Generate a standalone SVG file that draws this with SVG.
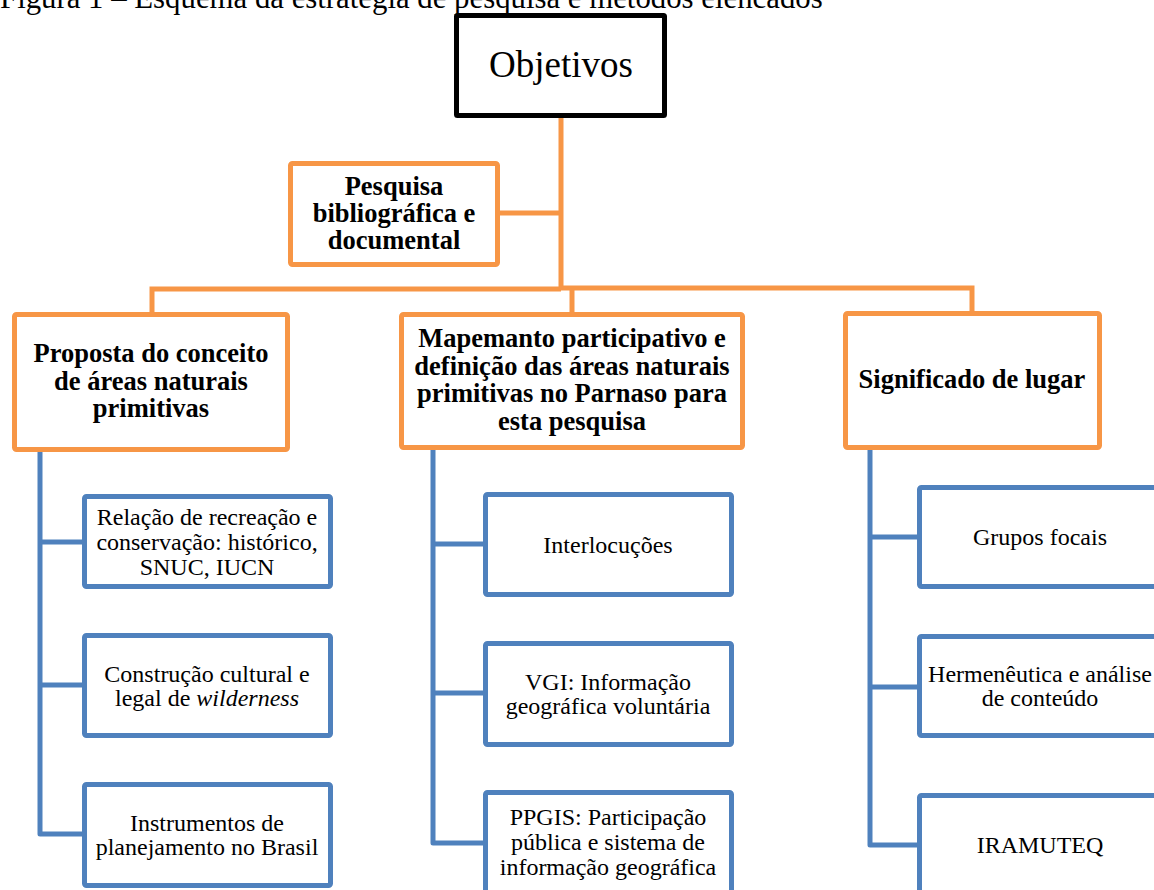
<svg xmlns="http://www.w3.org/2000/svg" width="1154" height="890" viewBox="0 0 1154 890">
<style>
text{font-family:"Liberation Serif","Times New Roman",serif;fill:#000;text-anchor:middle}
.t{font-size:24px}
.b{font-size:26.5px;font-weight:bold}
.ob{fill:#fff;stroke:#F79646;stroke-width:5}
.bb{fill:#fff;stroke:#4F81BD;stroke-width:5}
.oc{fill:none;stroke:#F79646;stroke-width:5}
.bc{fill:none;stroke:#4F81BD;stroke-width:5;stroke-linejoin:round}
</style>
<rect width="1154" height="890" fill="#fff"/>
<text x="0" y="8" style="font-size:30.8px;text-anchor:start">Figura 1 – Esquema da estratégia de pesquisa e métodos elencados</text>
<g id="connectors">
<path class="oc" d="M561 118V289M500 213H561M152 312V289H561M561 288H972V311M572 288V312"/>
<path class="bc" d="M40 452V834H82M40 542H82M40 685H82"/>
<path class="bc" d="M433 450V843H483M433 544H483M433 693H483"/>
<path class="bc" d="M870 450V845H917M870 537H917M870 687H917"/>
</g>
<g id="objetivos">
<rect x="456.5" y="15.5" width="208" height="100" rx="1" fill="#fff" stroke="#000" stroke-width="5"/>
<text x="561" y="77" style="font-size:37px">Objetivos</text>
</g>
<g id="pesquisa">
<rect class="ob" x="290.5" y="163.5" width="207" height="101" rx="2"/>
<text class="b" x="394" y="195">Pesquisa</text>
<text class="b" x="394" y="222">bibliográfica e</text>
<text class="b" x="394" y="249">documental</text>
</g>
<g id="proposta">
<rect class="ob" x="14.5" y="314.5" width="273" height="135" rx="2"/>
<text class="b" x="151" y="362">Proposta do conceito</text>
<text class="b" x="151" y="389.5">de áreas naturais</text>
<text class="b" x="151" y="417">primitivas</text>
</g>
<g id="mapemanto">
<rect class="ob" x="401.5" y="314.5" width="341" height="133" rx="2"/>
<text class="b" x="572" y="347">Mapemanto participativo e</text>
<text class="b" x="572" y="374.5">definição das áreas naturais</text>
<text class="b" x="572" y="402">primitivas no Parnaso para</text>
<text class="b" x="572" y="429.5">esta pesquisa</text>
</g>
<g id="significado">
<rect class="ob" x="845.5" y="313.5" width="254" height="134" rx="2"/>
<text class="b" x="972" y="388">Significado de lugar</text>
</g>
<g id="relacao">
<rect class="bb" x="84.5" y="496.5" width="246" height="90" rx="2"/>
<text class="t" x="207" y="525">Relação de recreação e</text>
<text class="t" x="207" y="550">conservação: histórico,</text>
<text class="t" x="207" y="575">SNUC, IUCN</text>
</g>
<g id="construcao">
<rect class="bb" x="84.5" y="635.5" width="246" height="100" rx="2"/>
<text class="t" x="207" y="682">Construção cultural e</text>
<text class="t" x="207" y="706">legal de <tspan font-style="italic">wilderness</tspan></text>
</g>
<g id="instrumentos">
<rect class="bb" x="84.5" y="784.5" width="246" height="101" rx="2"/>
<text class="t" x="207" y="831">Instrumentos de</text>
<text class="t" x="207" y="855">planejamento no Brasil</text>
</g>
<g id="interlocucoes">
<rect class="bb" x="485.5" y="494.5" width="246" height="100" rx="2"/>
<text class="t" x="608" y="552.5">Interlocuções</text>
</g>
<g id="vgi">
<rect class="bb" x="485.5" y="643.5" width="246" height="101" rx="2"/>
<text class="t" x="608" y="690">VGI: Informação</text>
<text class="t" x="608" y="714">geográfica voluntária</text>
</g>
<g id="ppgis">
<rect class="bb" x="485.5" y="792.5" width="246" height="110" rx="2"/>
<text class="t" x="608" y="825">PPGIS: Participação</text>
<text class="t" x="608" y="850">pública e sistema de</text>
<text class="t" x="608" y="875">informação geográfica</text>
</g>
<g id="grupos">
<rect class="bb" x="919.5" y="487.5" width="241" height="99" rx="2"/>
<text class="t" x="1040" y="545">Grupos focais</text>
</g>
<g id="hermeneutica">
<rect class="bb" x="919.5" y="636.5" width="241" height="99" rx="2"/>
<text class="t" x="1040" y="682">Hermenêutica e análise</text>
<text class="t" x="1040" y="706">de conteúdo</text>
</g>
<g id="iramuteq">
<rect class="bb" x="919.5" y="795.5" width="241" height="110" rx="2"/>
<text class="t" x="1040" y="852.5">IRAMUTEQ</text>
</g>
</svg>
